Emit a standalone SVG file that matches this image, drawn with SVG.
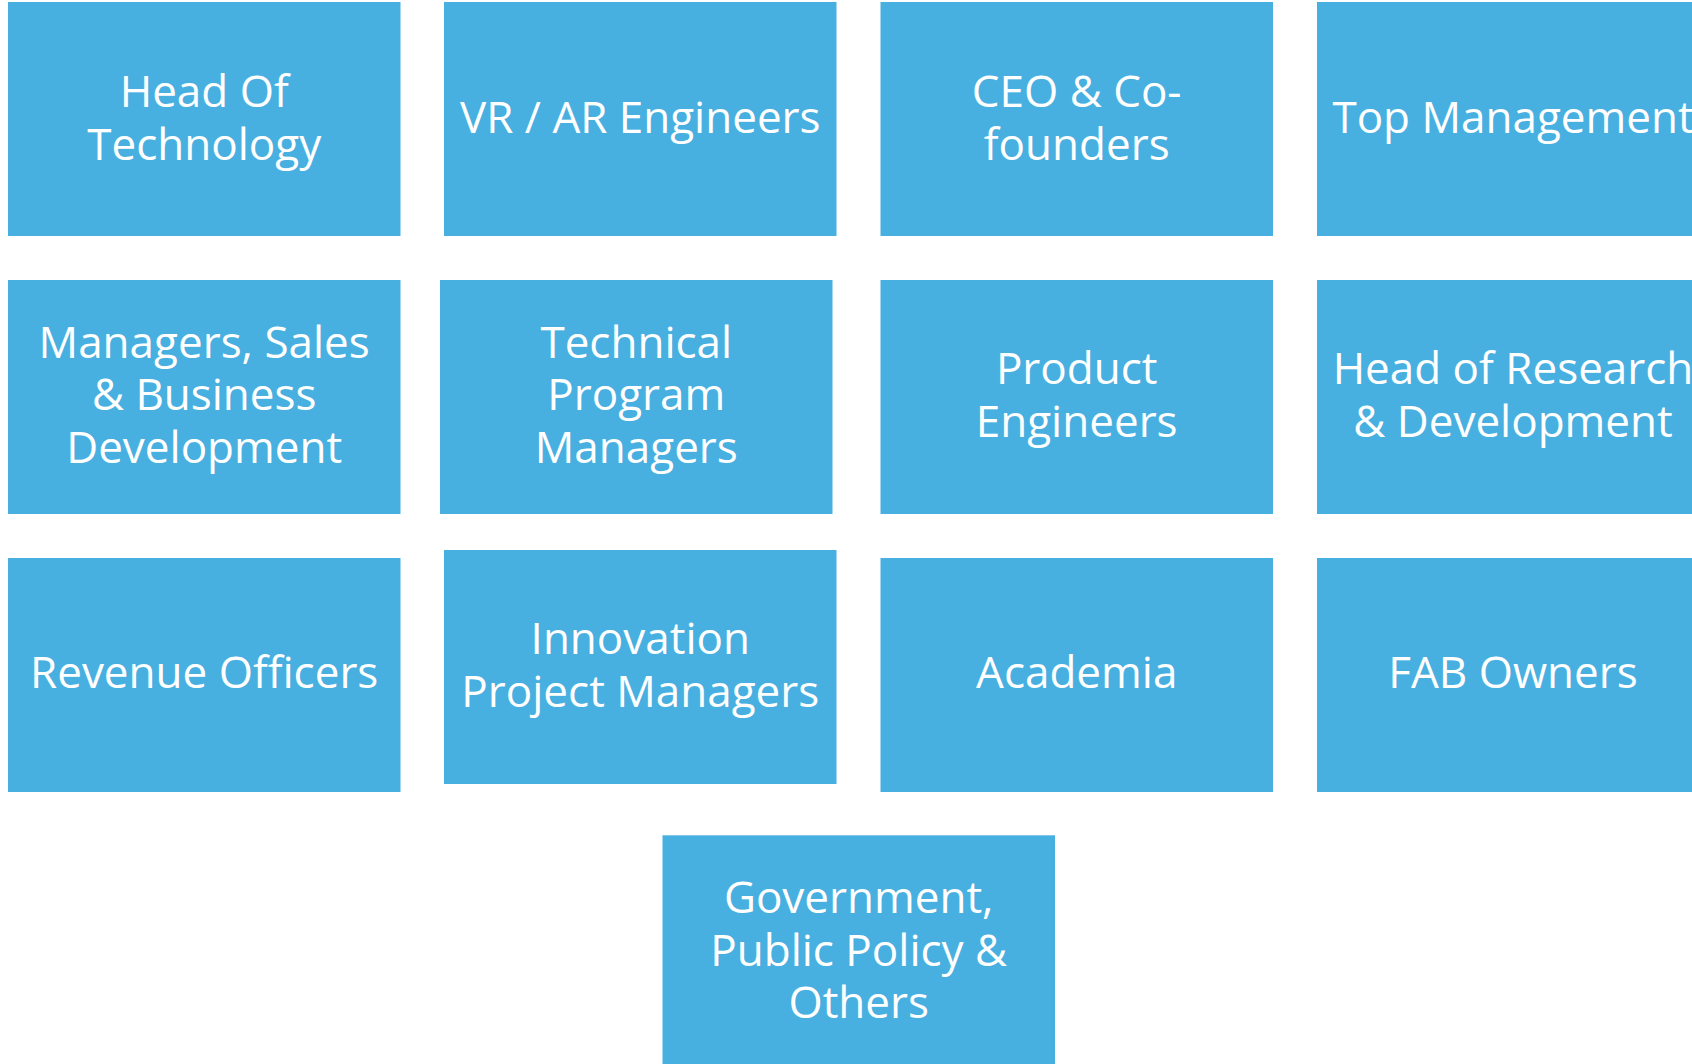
<svg xmlns="http://www.w3.org/2000/svg" width="1692" height="1064" viewBox="0 0 1692 1064">
<style>
.box{fill:#48B0E0;}
.t{fill:#FFFFFF;font-family:"Open Sans","Noto Sans","Liberation Sans",sans-serif;font-size:44px;text-anchor:middle;}
</style>
<rect width="1692" height="1064" fill="#FFFFFF"/>
<g id="connectors"/>
<g id="n-head-tech"><rect class="box" x="8" y="2" width="392.5" height="234"/><text class="t" x="204.2" y="106.7">Head Of<tspan x="204.2" dy="53.3">Technology</tspan></text></g>
<g id="n-vrar"><rect class="box" x="444" y="2" width="392.5" height="234"/><text class="t" x="640.3" y="133.3">VR / AR Engineers</text></g>
<g id="n-ceo"><rect class="box" x="880.5" y="2" width="392.5" height="234"/><text class="t" x="1076.7" y="106.7">CEO &amp; Co-<tspan x="1076.7" dy="53.3">founders</tspan></text></g>
<g id="n-top"><rect class="box" x="1317" y="2" width="392.5" height="234"/><text class="t" x="1513" y="133.3">Top Management</text></g>
<g id="n-managers"><rect class="box" x="8" y="280" width="392.5" height="234"/><text class="t" x="204.2" y="357.7">Managers, Sales<tspan x="204.2" dy="52.6">&amp; Business</tspan><tspan x="204.2" dy="52.7">Development</tspan></text></g>
<g id="n-tpm"><rect class="box" x="440" y="280" width="392.5" height="234"/><text class="t" x="636.3" y="357.7">Technical<tspan x="636.3" dy="52.6">Program</tspan><tspan x="636.3" dy="52.7">Managers</tspan></text></g>
<g id="n-product"><rect class="box" x="880.5" y="280" width="392.5" height="234"/><text class="t" x="1076.7" y="384">Product<tspan x="1076.7" dy="53">Engineers</tspan></text></g>
<g id="n-rnd"><rect class="box" x="1317" y="280" width="392.5" height="234"/><text class="t" x="1513" y="384">Head of Research<tspan x="1513" dy="53">&amp; Development</tspan></text></g>
<g id="n-revenue"><rect class="box" x="8" y="558" width="392.5" height="234"/><text class="t" x="204.2" y="688.3">Revenue Officers</text></g>
<g id="n-ipm"><rect class="box" x="444" y="550" width="392.5" height="234"/><text class="t" x="640.3" y="654.3">Innovation<tspan x="640.3" dy="52.4">Project Managers</tspan></text></g>
<g id="n-academia"><rect class="box" x="880.5" y="558" width="392.5" height="234"/><text class="t" x="1076.7" y="688.3">Academia</text></g>
<g id="n-fab"><rect class="box" x="1317" y="558" width="392.5" height="234"/><text class="t" x="1513" y="688.3">FAB Owners</text></g>
<g id="n-gov"><rect class="box" x="662.5" y="835.3" width="392.5" height="234"/><text class="t" x="858.7" y="913.3">Government,<tspan x="858.7" dy="53">Public Policy &amp;</tspan><tspan x="858.7" dy="51.7">Others</tspan></text></g>
</svg>
